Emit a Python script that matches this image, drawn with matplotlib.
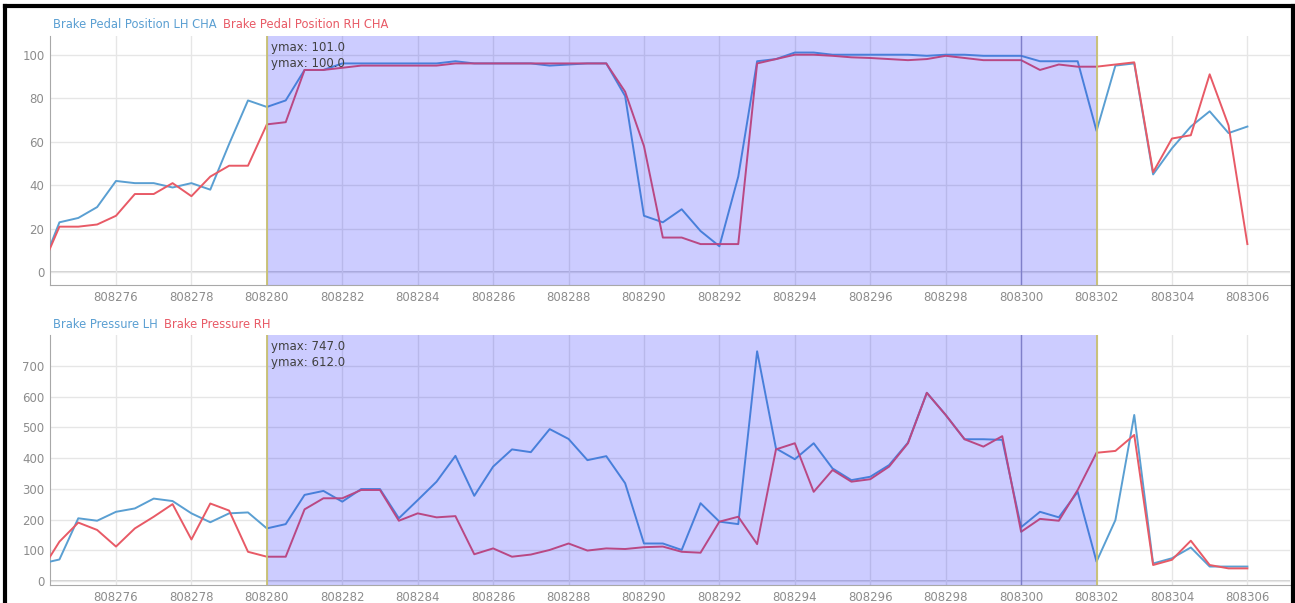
import numpy as np
import matplotlib
matplotlib.use("Agg")
import matplotlib.pyplot as plt
from matplotlib.lines import Line2D

# ---- data ----
t = np.arange(808274.0, 808306.5, 0.5)

pedal_lh = [1, 23, 25, 30, 42, 41, 41, 39, 41, 38, 59, 79, 76, 79, 93, 93, 96, 96, 96, 96,
            96, 96, 97, 96, 96, 96, 96, 95, 95.5, 96, 96, 81, 26, 23, 29, 19, 12, 44, 97, 98,
            101, 101, 100, 100, 100, 100, 100, 99.5, 100, 100, 99.5, 99.5, 99.5, 97, 97, 97, 65, 95, 96, 45,
            57, 67, 74, 64, 67]
pedal_rh = [1, 21, 21, 22, 26, 36, 36, 41, 35, 44, 49, 49, 68, 69, 93, 93, 94, 95, 95, 95,
            95, 95, 96, 96, 96, 96, 96, 96, 96, 96, 96, 83, 58, 16, 16, 13, 13, 13, 96, 98,
            100, 100, 99.5, 98.8, 98.5, 98, 97.5, 98, 99.5, 98.5, 97.5, 97.5, 97.5, 93, 95.5, 94.5, 94.5, 95.5, 96.5, 46,
            61.5, 63, 91, 67.5, 13]
press_lh = [56, 70, 204, 196, 225, 236, 268, 260, 220, 191, 220, 223, 171, 185, 280, 293, 258, 299, 299, 204,
            263, 323, 407, 277, 372, 428, 419, 494, 462, 393, 406, 318, 122, 122, 101, 253, 193, 185, 747, 431,
            396, 448, 366, 328, 339, 377, 450, 612, 540, 461, 461, 459, 175, 225, 207, 290, 63, 198, 540, 57,
            74, 109, 47, 47, 47]
press_rh = [30, 128, 190, 166, 112, 171, 209, 250, 135, 252, 229, 95, 79, 79, 233, 269, 269, 296, 296, 196,
            220, 207, 211, 87, 106, 79, 86, 101, 122, 99, 106, 104, 110, 112, 95, 92, 193, 209, 120, 428,
            448, 290, 361, 323, 331, 372, 448, 612, 540, 461, 437, 471, 160, 202, 196, 296, 417, 423, 475, 52,
            69, 131, 52, 41, 41]

xticks = [808276, 808278, 808280, 808282, 808284, 808286, 808288, 808290,
          808292, 808294, 808296, 808298, 808300, 808302, 808304, 808306]
xtick_labels = [str(v) for v in xticks]
top_yticks = [0, 20, 40, 60, 80, 100]
bot_yticks = [0, 100, 200, 300, 400, 500, 600, 700]

span = (808280, 808302)
cursor = 808300
top_legend = ["Brake Pedal Position LH CHA", "Brake Pedal Position RH CHA"]
bot_legend = ["Brake Pressure LH", "Brake Pressure RH"]
top_ymax = ["ymax: 101.0", "ymax: 100.0"]
bot_ymax = ["ymax: 747.0", "ymax: 612.0"]

BLUE = "#5a9fd2"
RED = "#e85a66"
TICKC = "#8c8c8c"
GRID = "#e6e6e6"

W, H = 1295, 603
fig = plt.figure(figsize=(W / 100, H / 100), dpi=100)
plt.rcParams['font.family'] = ['DejaVu Sans']

def fx(px):
    return px / W

def fy(py):
    return 1 - py / H

ax1 = fig.add_axes([fx(50), fy(285), fx(1290) - fx(50), fy(36) - fy(285)])
ax2 = fig.add_axes([fx(50), fy(585), fx(1290) - fx(50), fy(335) - fy(585)])

def style(ax, y1, y2, s2, yticks, ylim, legend, ymax_txt):
    ax.plot(t, y1, color=BLUE, lw=1.4, zorder=3)
    ax.plot(t, y2, color=RED, lw=1.4, zorder=3)
    ax.set_xlim(808274.25, 808307.13)
    ax.set_ylim(*ylim)
    ax.set_xticks(xticks)
    ax.set_xticklabels(xtick_labels)
    ax.set_yticks(yticks)
    ax.tick_params(length=0, colors=TICKC, labelsize=8.5, pad=4)
    ax.grid(True, color=GRID, lw=1, zorder=0)
    for s in ["top", "right"]:
        ax.spines[s].set_visible(False)
    ax.spines["left"].set_color("#a8a8a8")
    ax.spines["bottom"].set_color("#a8a8a8")
    ax.axhline(0, color="#c8c8c8", lw=1.2, zorder=1)
    ax.axvline(cursor, color="#7070a0", lw=1, alpha=0.6, zorder=4)
    ax.axvspan(span[0], span[1], color=(0, 0, 1), alpha=0.2, lw=0, zorder=5)
    for xv in span:
        ax.axvline(xv, color="#c8c070", lw=1.3, zorder=6)
    ax.text(span[0] + 0.12, ylim[1] - (ylim[1] - ylim[0]) * 0.045, ymax_txt[0],
            color="#404040", fontsize=8.5, va="center", ha="left", zorder=7)
    ax.text(span[0] + 0.12, ylim[1] - (ylim[1] - ylim[0]) * 0.11, ymax_txt[1],
            color="#404040", fontsize=8.5, va="center", ha="left", zorder=7)

style(ax1, pedal_lh, pedal_rh, None, top_yticks, (-5.8, 108.6), top_legend, top_ymax)
style(ax2, press_lh, press_rh, None, bot_yticks, (-13, 800), bot_legend, bot_ymax)

def legend(y_px, labels):
    t1 = fig.text(fx(53), fy(y_px), labels[0], color=BLUE, fontsize=8.3, va="center", ha="left")
    fig.canvas.draw()
    bb = t1.get_window_extent()
    fig.text((bb.x1 + 6) / W, fy(y_px), labels[1], color=RED, fontsize=8.3, va="center", ha="left")

legend(24, top_legend)
legend(324, bot_legend)

# outer black frame (left, top, right)
fig.add_artist(Line2D([fx(5), fx(5)], [0, fy(6)], color="black", lw=3, transform=fig.transFigure))
fig.add_artist(Line2D([fx(5), fx(1293)], [fy(6), fy(6)], color="black", lw=3, transform=fig.transFigure))
fig.add_artist(Line2D([fx(1293), fx(1293)], [0, fy(6)], color="black", lw=3, transform=fig.transFigure))

fig.savefig("out.png", dpi=100)
